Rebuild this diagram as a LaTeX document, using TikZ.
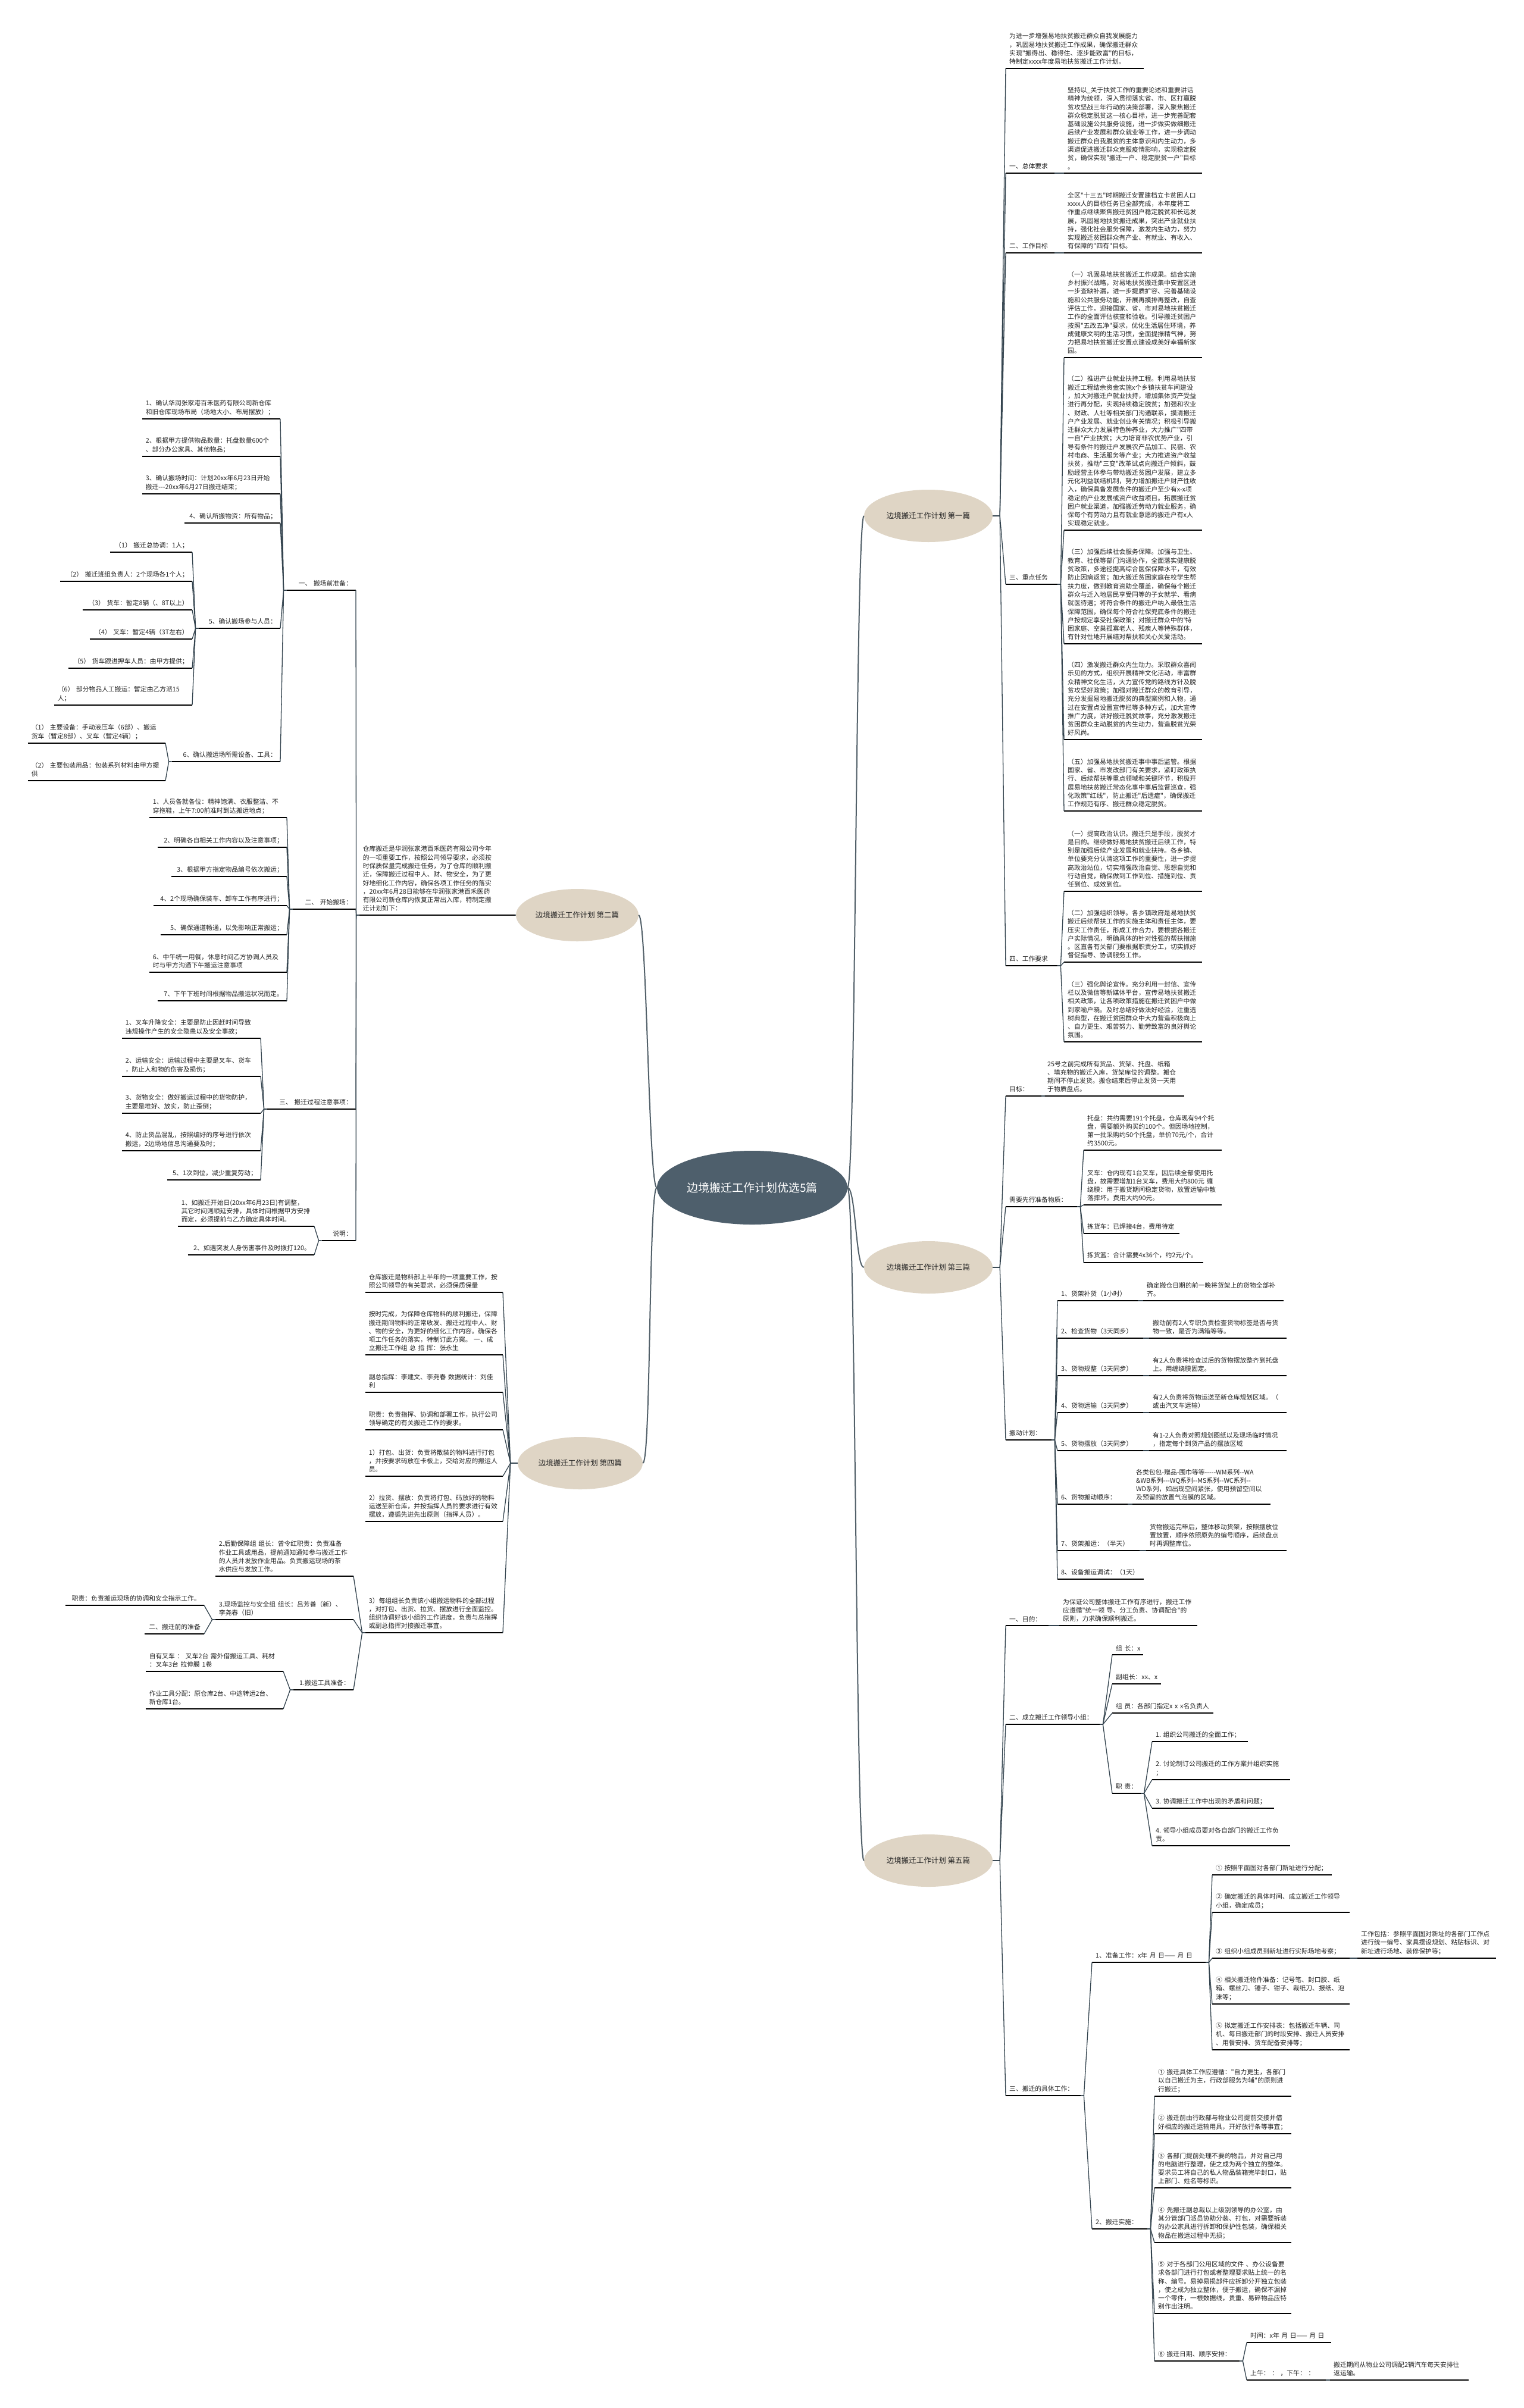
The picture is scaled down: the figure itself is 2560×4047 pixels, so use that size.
\documentclass[tikz,border=0pt]{standalone}
\usepackage{fontspec}
\newfontfamily\cjk[HyphenChar=None]{Noto Sans CJK SC}
\usetikzlibrary{shapes.geometric}
\definecolor{slate}{HTML}{4E5F6C}
\definecolor{beige}{HTML}{DFD5C5}
\definecolor{conn}{HTML}{34444F}
\definecolor{txtc}{HTML}{222222}
\newcommand\RNode[5]{\pgfmathsetmacro\mytw{#3-#2-12}%
  \node[tx,text width=\mytw pt,anchor=south west] (#1) at (#2,#4) {#5};
  \draw[ul] (#1.south west) -- (#1.south east);}
\newcommand\LNode[5]{\pgfmathsetmacro\mytw{#3-#2-12}%
  \node[tx,text width=\mytw pt,anchor=south east] (#1) at (#3,#4) {#5};
  \draw[ul] (#1.south west) -- (#1.south east);}
\newcommand\LNodeR[5]{\pgfmathsetmacro\mytw{#3-#2-12}%
  \node[tx,text width=\mytw pt,anchor=south east,align=right] (#1) at (#3,#4) {#5};
  \draw[ul] (#1.south west) -- (#1.south east);}
\newcommand\CR[2]{\draw[cn] (#1.south east) -- ++(5,0) -- (#2.south west);}
\newcommand\CL[2]{\draw[cn] (#1.south west) -- ++(-5,0) -- (#2.south east);}
\newcommand\CRE[2]{\draw[cn] (#1.east) -- ++(12,0) -- (#2.south west);}
\newcommand\CLE[2]{\draw[cn] (#1.west) -- ++(-12,0) -- (#2.south east);}
\begin{document}
\begin{tikzpicture}[x=1pt,y=-1pt,
  tx/.style={font=\cjk\fontsize{10.8}{14.3}\selectfont, text=txtc, inner xsep=6pt, inner ysep=6pt, align=left},
  ul/.style={line width=1.6pt, black},
  cn/.style={line width=1.3pt, conn, line join=round},
  mcn/.style={line width=2pt, conn!85},
  br/.style={ellipse, fill=beige, minimum width=216pt, minimum height=88pt, font=\cjk\fontsize{12.5}{15}\selectfont, text=txtc, inner sep=0pt},
]
\fill[white] (0,0) rectangle (2560,4047);
\useasboundingbox (0,0) rectangle (2560,4047);

% ---------- branch ellipses ----------
\node[br] (b1) at (1560,867) {边境搬迁工作计划 第一篇};
\node[br] (b3) at (1560,2130) {边境搬迁工作计划 第三篇};
\node[br] (b5) at (1560,3127) {边境搬迁工作计划 第五篇};
\node[br,minimum width=206pt] (b2) at (970,1538) {边境搬迁工作计划 第二篇};
\node[br,minimum width=210pt] (b4) at (975,2459) {边境搬迁工作计划 第四篇};

% ================= 第一篇 =================
\RNode{r1i}{1690}{1922}{115}{为进一步增强易地扶贫搬迁群众自我发展能力\\，巩固易地扶贫搬迁工作成果，确保搬迁群众\\实现"搬得出、稳得住、逐步能致富"的目标，\\特制定xxxx年度易地扶贫搬迁工作计划。}
\RNode{r1al}{1690}{1772}{291}{一、总体要求}
\RNode{r1ac}{1788}{2020}{291}{坚持以\_关于扶贫工作的重要论述和重要讲话\\精神为统领，深入贯彻落实省、市、区打赢脱\\贫攻坚战三年行动的决策部署，深入聚焦搬迁\\群众稳定脱贫这一核心目标，进一步完善配套\\基础设施公共服务设施，进一步做实做细搬迁\\后续产业发展和群众就业等工作，进一步调动\\搬迁群众自我脱贫的主体意识和内生动力，多\\渠道促进搬迁群众克服疫情影响，实现稳定脱\\贫，确保实现"搬迁一户、稳定脱贫一户"目标\\。}
\RNode{r1bl}{1690}{1772}{425}{二、工作目标}
\RNode{r1bc}{1788}{2020}{425}{全区"十三五"时期搬迁安置建档立卡贫困人口\\xxxx人的目标任务已全部完成，本年度将工\\作重点继续聚焦搬迁贫困户稳定脱贫和长远发\\展，巩固易地扶贫搬迁成果，突出产业就业扶\\持，强化社会服务保障，激发内生动力，努力\\实现搬迁贫困群众有产业、有就业、有收入、\\有保障的"四有"目标。}
\RNode{r1cl}{1690}{1777}{982}{三、重点任务}
\RNode{r1c1}{1788}{2020}{601}{（一）巩固易地扶贫搬迁工作成果。结合实施\\乡村振兴战略，对易地扶贫搬迁集中安置区进\\一步查缺补漏，进一步提质扩容、完善基础设\\施和公共服务功能，开展再摸排再整改，自查\\评估工作，迎接国家、省、市对易地扶贫搬迁\\工作的全面评估核查和验收。引导搬迁贫困户\\按照"五改五净"要求，优化生活居住环境，养\\成健康文明的生活习惯，全面提振精气神，努\\力把易地扶贫搬迁安置点建设成美好幸福新家\\园。}
\RNode{r1c2}{1788}{2020}{891}{（二）推进产业就业扶持工程。利用易地扶贫\\搬迁工程结余资金实施x个乡镇扶贫车间建设\\，加大对搬迁户就业扶持，增加集体资产受益\\进行再分配，实现持续稳定脱贫；加强和农业\\、财政、人社等相关部门沟通联系，摸清搬迁\\户产业发展、就业创业有关情况；积极引导搬\\迁群众大力发展特色种养业，大力推广"四带\\一自"产业扶贫；大力培育非农优势产业，引\\导有条件的搬迁户发展农产品加工、民宿、农\\村电商、生活服务等产业；大力推进资产收益\\扶贫，推动"三变"改革试点向搬迁户倾斜，鼓\\励经营主体参与带动搬迁贫困户发展，建立多\\元化利益联结机制，努力增加搬迁户财产性收\\入，确保具备发展条件的搬迁户至少有x-x项\\稳定的产业发展或资产收益项目。拓展搬迁贫\\困户就业渠道，加强搬迁劳动力就业服务，确\\保每个有劳动力且有就业意愿的搬迁户有x人\\实现稳定就业。}
\RNode{r1c3}{1788}{2020}{1082}{（三）加强后续社会服务保障。加强与卫生、\\教育、社保等部门沟通协作，全面落实健康脱\\贫政策，多途径提高综合医保保障水平，有效\\防止因病返贫；加大搬迁贫困家庭在校学生帮\\扶力度，做到教育资助全覆盖，确保每个搬迁\\群众与迁入地居民享受同等的子女就学、看病\\就医待遇；将符合条件的搬迁户纳入最低生活\\保障范围，确保每个符合社保兜底条件的搬迁\\户按规定享受社保政策；对搬迁群众中的'特\\困家庭、空巢孤寡老人、残疾人等特殊群体，\\有针对性地开展结对帮扶和关心关爱活动。}
\RNode{r1c4}{1788}{2020}{1243}{（四）激发搬迁群众内生动力。采取群众喜闻\\乐见的方式，组织开展精神文化活动，丰富群\\众精神文化生活，大力宣传党的路线方针及脱\\贫攻坚好政策；加强对搬迁群众的教育引导，\\充分发掘易地搬迁脱贫的典型案例和人物，通\\过在安置点设置宣传栏等多种方式，加大宣传\\推广力度，讲好搬迁脱贫故事，充分激发搬迁\\贫困群众主动脱贫的内生动力，营造脱贫光荣\\好风尚。}
\RNode{r1c5}{1788}{2020}{1363}{（五）加强易地扶贫搬迁事中事后监管。根据\\国家、省、市发改部门有关要求，紧盯政策执\\行、后续帮扶等重点领域和关键环节，积极开\\展易地扶贫搬迁常态化事中事后监督巡查，强\\化政策"红线"，防止搬迁"后遗症"，确保搬迁\\工作规范有序、搬迁群众稳定脱贫。}
\RNode{r1dl}{1690}{1777}{1623}{四、工作要求}
\RNode{r1d1}{1788}{2020}{1498}{（一）提高政治认识。搬迁只是手段，脱贫才\\是目的。继续做好易地扶贫搬迁后续工作，特\\别是加强后续产业发展和就业扶持。各乡镇、\\单位要充分认清这项工作的重要性，进一步提\\高政治站位，切实增强政治自觉、思想自觉和\\行动自觉，确保做到工作到位、措施到位、责\\任到位、成效到位。}
\RNode{r1d2}{1788}{2020}{1617}{（二）加强组织领导。各乡镇政府是易地扶贫\\搬迁后续帮扶工作的实施主体和责任主体，要\\压实工作责任，形成工作合力，要根据各搬迁\\户实际情况，明确具体的针对性强的帮扶措施\\。区直各有关部门要根据职责分工，切实抓好\\督促指导、协调服务工作。}
\RNode{r1d3}{1788}{2020}{1751}{（三）强化舆论宣传。充分利用一封信、宣传\\栏以及微信等新媒体平台，宣传易地扶贫搬迁\\相关政策，让各项政策措施在搬迁贫困户中做\\到家喻户晓。及时总结好做法好经验，注重选\\树典型，在搬迁贫困群众中大力营造积极向上\\、自力更生、艰苦努力、勤劳致富的良好舆论\\氛围。}
\CRE{b1}{r1i}\CRE{b1}{r1al}\CRE{b1}{r1bl}\CRE{b1}{r1cl}\CRE{b1}{r1dl}
\CR{r1al}{r1ac}\CR{r1bl}{r1bc}
\CR{r1cl}{r1c1}\CR{r1cl}{r1c2}\CR{r1cl}{r1c3}\CR{r1cl}{r1c4}\CR{r1cl}{r1c5}
\CR{r1dl}{r1d1}\CR{r1dl}{r1d2}\CR{r1dl}{r1d3}

% ================= 第三篇 =================
\RNode{r3al}{1690}{1750}{1842}{目标：}
\RNode{r3ac}{1754}{1990}{1842}{25号之前完成所有货品、货架、托盘、纸箱\\、填充物的搬迁入库，货架库位的调整。搬仓\\期间不停止发货。搬仓结束后停止发货一天用\\于物质盘点。}
\RNode{r3bl}{1690}{1810}{2028}{需要先行准备物质：}
\RNode{r3b1}{1821}{2053}{1933}{托盘：共约需要191个托盘，仓库现有94个托\\盘，需要额外购买约100个。但因场地控制，\\第一批采购约50个托盘，单价70元/个，合计\\约3500元。}
\RNode{r3b2}{1821}{2053}{2025}{叉车：仓内现有1台叉车，因后续全部使用托\\盘，故需要增加1台叉车，费用大约800元~缠\\绕膜：用于搬货期间稳定货物，放置运输中散\\落摔坏。费用大约90元。}
\RNode{r3b3}{1821}{1982}{2073}{拣货车：已焊接4台，费用待定}
\RNode{r3b4}{1821}{2022}{2122}{拣货篮：合计需要4x36个，约2元/个。}
\RNode{r3cl}{1690}{1767}{2420}{搬动计划：}
\RNode{r3c1}{1777}{1912}{2186}{1、货架补货（1小时）}
\RNode{r3c1t}{1921}{2157}{2186}{确定搬仓日期的前一晚将货架上的货物全部补\\齐。}
\RNode{r3c2}{1777}{1921}{2249}{2、检查货物（3天同步）}
\RNode{r3c2t}{1931}{2162}{2249}{搬动前有2人专职负责检查货物标签是否与货\\物一致，是否为满箱等等。}
\RNode{r3c3}{1777}{1921}{2312}{3、货物规整（3天同步）}
\RNode{r3c3t}{1931}{2162}{2312}{有2人负责将检查过后的货物摆放整齐到托盘\\上。用缠绕膜固定。}
\RNode{r3c4}{1777}{1921}{2374}{4、货物运输（3天同步）}
\RNode{r3c4t}{1931}{2162}{2374}{有2人负责将货物运送至新仓库规划区域。（\\或由汽叉车运输）}
\RNode{r3c5}{1777}{1921}{2438}{5、货物摆放（3天同步）}
\RNode{r3c5t}{1931}{2162}{2438}{有1-2人负责对照规划图纸以及现场临时情况\\，指定每个到货产品的摆放区域}
\RNode{r3c6}{1777}{1895}{2528}{6、货物搬动顺序：}
\RNode{r3c6t}{1903}{2135}{2528}{各类包包-赠品-围巾等等-----WM系列--WA\\\&WB系列---WQ系列--MS系列--WC系列--\\WD系列，如出现空间紧张，使用预留空间以\\及预留的放置气泡膜的区域。}
\RNode{r3c7}{1777}{1915}{2606}{7、货架搬运：（半天）}
\RNode{r3c7t}{1926}{2162}{2606}{货物搬运完毕后，整体移动货架，按照摆放位\\置放置，顺序依照原先的编号顺序，后续盘点\\时再调整库位。}
\RNode{r3c8}{1777}{1922}{2654}{8、设备搬运调试：（1天）}
\CRE{b3}{r3al}\CRE{b3}{r3bl}\CRE{b3}{r3cl}
\CR{r3al}{r3ac}
\CR{r3bl}{r3b1}\CR{r3bl}{r3b2}\CR{r3bl}{r3b3}\CR{r3bl}{r3b4}
\CR{r3cl}{r3c1}\CR{r3cl}{r3c2}\CR{r3cl}{r3c3}\CR{r3cl}{r3c4}\CR{r3cl}{r3c5}\CR{r3cl}{r3c6}\CR{r3cl}{r3c7}\CR{r3cl}{r3c8}
\CR{r3c1}{r3c1t}\CR{r3c2}{r3c2t}\CR{r3c3}{r3c3t}\CR{r3c4}{r3c4t}\CR{r3c5}{r3c5t}\CR{r3c6}{r3c6t}\CR{r3c7}{r3c7t}

% ================= 第五篇 =================
\RNode{r5al}{1690}{1762}{2732}{一、目的：}
\RNode{r5ac}{1780}{2012}{2732}{为保证公司整体搬迁工作有序进行，搬迁工作\\应遵循"统一领~导、分工负责、协调配合"的\\原则，力求确保顺利搬迁。}
\RNode{r5bl}{1690}{1848}{2898}{二、成立搬迁工作领导小组：}
\RNode{r5b1}{1869}{1921}{2781}{组~长：x}
\RNode{r5b2}{1869}{1951}{2830}{副组长：xx、x}
\RNode{r5b3}{1869}{2039}{2879}{组~员：各部门指定x~x~x名负责人}
\RNode{r5b4}{1869}{1917}{3014}{职~责：}
\RNode{r5b41}{1936}{2097}{2927}{1.~组织公司搬迁的全面工作；}
\RNode{r5b42}{1936}{2168}{2991}{2.~讨论制订公司搬迁的工作方案并组织实施\\；}
\RNode{r5b43}{1936}{2141}{3039}{3.~协调搬迁工作中出现的矛盾和问题；}
\RNode{r5b44}{1936}{2168}{3102}{4.~领导小组成员要对各自部门的搬迁工作负\\责。}
\RNode{r5cl}{1690}{1816}{3522}{三、搬迁的具体工作：}
\RNode{r5c1}{1835}{2026}{3298}{1、准备工作：x年~月~日——~月~日}
\RNode{r5c11}{2037}{2238}{3151}{①~按照平面图对各部门新址进行分配；}
\RNode{r5c12}{2037}{2268}{3214}{②~确定搬迁的具体时间、成立搬迁工作领导\\小组，确定成员；}
\RNode{r5c13}{2037}{2268}{3291}{③~组织小组成员到新址进行实际场地考察；}
\RNode{r5c13t}{2281}{2514}{3291}{工作包括：参照平面图对新址的各部门工作点\\进行统一编号、家具摆设规划、粘贴标识、对\\新址进行场地、装修保护等；}
\RNode{r5c14}{2037}{2268}{3368}{④~相关搬迁物件准备：记号笔、封口胶、纸\\箱、螺丝刀、锤子、钳子、裁纸刀、报纸、泡\\沫等；}
\RNode{r5c15}{2037}{2268}{3445}{⑤~拟定搬迁工作安排表：包括搬迁车辆、司\\机、每日搬迁部门的时段安排、搬迁人员安排\\、用餐安排、货车配备安排等；}
\RNode{r5c2}{1835}{1928}{3746}{2、搬迁实施：}
\RNode{r5c21}{1940}{2170}{3523}{①~搬迁具体工作应遵循："自力更生，各部门\\以自己搬迁为主，行政部服务为辅"的原则进\\行搬迁；}
\RNode{r5c22}{1940}{2170}{3586}{②~搬迁前由行政部与物业公司提前交接并借\\好相应的搬迁运输用具，开好放行条等事宜；}
\RNode{r5c23}{1940}{2170}{3677}{③~各部门提前处理不要的物品，并对自己用\\的电脑进行整理，使之成为两个独立的整体。\\要求员工将自己的私人物品装箱完毕封口，贴\\上部门、姓名等标识。}
\RNode{r5c24}{1940}{2170}{3769}{④~先搬迁副总裁以上级别领导的办公室，由\\其分管部门派员协助分装、打包，对需要拆装\\的办公家具进行拆卸和保护性包装，确保相关\\物品在搬运过程中无损；}
\RNode{r5c25}{1940}{2170}{3888}{⑤~对于各部门公用区域的文件~、办公设备要\\求各部门进行打包或者整理要求贴上统一的名\\称、编号。易掉易损部件应拆卸分开独立包装\\，使之成为独立整体，便于搬运，确保不漏掉\\一个零件，一根数据线，贵重、易碎物品应特\\别作出注明。}
\RNode{r5c26}{1940}{2083}{3968}{⑥~搬迁日期、顺序安排：}
\RNode{r5c261}{2095}{2237}{3937}{时间：x年~月~日——~月~日}
\RNode{r5c262}{2095}{2228}{4000}{上午：~：~，下午：~：}
\RNode{r5c262t}{2235}{2468}{4000}{搬迁期间从物业公司调配2辆汽车每天安排往\\返运输。}
\CRE{b5}{r5al}\CRE{b5}{r5bl}\CRE{b5}{r5cl}
\CR{r5al}{r5ac}
\CR{r5bl}{r5b1}\CR{r5bl}{r5b2}\CR{r5bl}{r5b3}\CR{r5bl}{r5b4}
\CR{r5b4}{r5b41}\CR{r5b4}{r5b42}\CR{r5b4}{r5b43}\CR{r5b4}{r5b44}
\CR{r5cl}{r5c1}\CR{r5cl}{r5c2}
\CR{r5c1}{r5c11}\CR{r5c1}{r5c12}\CR{r5c1}{r5c13}\CR{r5c1}{r5c14}\CR{r5c1}{r5c15}
\CR{r5c13}{r5c13t}
\CR{r5c2}{r5c21}\CR{r5c2}{r5c22}\CR{r5c2}{r5c23}\CR{r5c2}{r5c24}\CR{r5c2}{r5c25}\CR{r5c2}{r5c26}
\CR{r5c26}{r5c261}\CR{r5c26}{r5c262}\CR{r5c262}{r5c262t}

% ================= 第二篇 =================
\LNode{l2i}{604}{865}{1538}{仓库搬迁是华润张家港百禾医药有限公司今年\\的一项重要工作，按照公司领导要求，必须按\\时保质保量完成搬迁任务，为了仓库的顺利搬\\迁，保障搬迁过程中人、财、物安全，为了更\\好地细化工作内容，确保各项工作任务的落实\\，20xx年6月28日能够在华润张家港百禾医药\\有限公司新仓库内恢复正常出入库，特制定搬\\迁计划如下：}
\LNodeR{l2a}{482}{598}{992}{一、~搬场前准备：}
\LNode{l2a1}{239}{471}{704}{1、确认华润张家港百禾医药有限公司新仓库\\和旧仓库现场布局（场地大小、布局摆放）；}
\LNode{l2a2}{239}{471}{767}{2、根据甲方提供物品数量：托盘数量600个\\、部分办公家具、其他物品；}
\LNode{l2a3}{239}{471}{830}{3、确认搬场时间：计划20xx年6月23日开始\\搬迁---20xx年6月27日搬迁结束；}
\LNodeR{l2a4}{310}{471}{879}{4、确认所搬物资：所有物品；}
\LNodeR{l2a5}{334}{471}{1056}{5、确认搬场参与人员：}
\LNodeR{l2a51}{185}{323}{928}{（1）~搬迁总协调：1人；}
\LNodeR{l2a52}{101}{323}{977}{（2）~搬迁班组负责人：2个现场各1个人；}
\LNodeR{l2a53}{139}{323}{1025}{（3）~货车：暂定8辆（、8T以上）}
\LNodeR{l2a54}{151}{323}{1074}{（4）~叉车：暂定4辆（3T左右）}
\LNodeR{l2a55}{115}{323}{1123}{（5）~货车跟进押车人员：由甲方提供；}
\LNode{l2a56}{91}{323}{1185}{（6）~部分物品人工搬运：暂定由乙方派15\\人；}
\LNodeR{l2a6}{289}{471}{1280}{6、确认搬运场所需设备、工具：}
\LNode{l2a61}{47}{278}{1249}{（1）~主要设备：手动液压车（6部）、搬运\\货车（暂定8部）、叉车（暂定4辆）；}
\LNode{l2a62}{47}{278}{1312}{（2）~主要包装用品：包装系列材料由甲方提\\供}
\LNodeR{l2b}{492}{598}{1528}{二、~开始搬场：}
\LNode{l2b1}{251}{482}{1374}{1、人员各就各位：精神饱满、衣服整洁、不\\穿拖鞋，上午7:00前准时到达搬运地点；}
\LNodeR{l2b2}{265}{482}{1424}{2、明确各自相关工作内容以及注意事项；}
\LNodeR{l2b3}{288}{482}{1473}{3、根据甲方指定物品编号依次搬运；}
\LNodeR{l2b4}{258}{482}{1522}{4、2个现场确保装车、卸车工作有序进行；}
\LNodeR{l2b5}{270}{482}{1571}{5、确保通道畅通，以免影响正常搬运；}
\LNode{l2b6}{251}{482}{1634}{6、中午统一用餐，休息时间乙方协调人员及\\时与甲方沟通下午搬运注意事项}
\LNodeR{l2b7}{265}{482}{1682}{7、下午下班时间根据物品搬运状况而定。}
\LNodeR{l2c}{449}{598}{1864}{三、~搬迁过程注意事项：}
\LNode{l2c1}{205}{438}{1745}{1、叉车升降安全：主要是防止因赶时间导致\\违规操作产生的安全隐患以及安全事故；}
\LNode{l2c2}{205}{438}{1809}{2、运输安全：运输过程中主要是叉车、货车\\，防止人和物的伤害及损伤；}
\LNode{l2c3}{205}{438}{1871}{3、货物安全：做好搬运过程中的货物防护，\\主要是堆好、放实，防止歪倒；}
\LNode{l2c4}{205}{438}{1934}{4、防止货品混乱，按照编好的序号进行依次\\搬运，2边场地信息沟通要及时；}
\LNodeR{l2c5}{281}{438}{1983}{5、1次到位，减少重复劳动；}
\LNodeR{l2d}{541}{598}{2085}{说明：}
\LNode{l2d1}{299}{528}{2061}{1、如搬迁开始日(20xx年6月23日)有调整，\\其它时间则顺延安排，具体时间根据甲方安排\\而定，必须提前与乙方确定具体时间。}
\LNodeR{l2d2}{316}{528}{2109}{2、如遇突发人身伤害事件及时拨打120。}
\draw[cn] (b2.west) -- (l2i.south east);
\CL{l2i}{l2a}\CL{l2i}{l2b}\CL{l2i}{l2c}\CL{l2i}{l2d}
\CL{l2a}{l2a1}\CL{l2a}{l2a2}\CL{l2a}{l2a3}\CL{l2a}{l2a4}\CL{l2a}{l2a5}\CL{l2a}{l2a6}
\CL{l2a5}{l2a51}\CL{l2a5}{l2a52}\CL{l2a5}{l2a53}\CL{l2a5}{l2a54}\CL{l2a5}{l2a55}\CL{l2a5}{l2a56}
\CL{l2a6}{l2a61}\CL{l2a6}{l2a62}
\CL{l2b}{l2b1}\CL{l2b}{l2b2}\CL{l2b}{l2b3}\CL{l2b}{l2b4}\CL{l2b}{l2b5}\CL{l2b}{l2b6}\CL{l2b}{l2b7}
\CL{l2c}{l2c1}\CL{l2c}{l2c2}\CL{l2c}{l2c3}\CL{l2c}{l2c4}\CL{l2c}{l2c5}
\CL{l2d}{l2d1}\CL{l2d}{l2d2}

% ================= 第四篇 =================
\LNode{l4a}{614}{845}{2172}{仓库搬迁是物料部上半年的一项重要工作，按\\照公司领导的有关要求，必须保质保量}
\LNode{l4b}{614}{845}{2277}{按时完成，为保障仓库物料的顺利搬迁，保障\\搬迁期间物料的正常收发、搬迁过程中人、财\\、物的安全，为更好的细化工作内容。确保各\\项工作任务的落实，特制订此方案。~一、成\\立搬迁工作组~总~指~挥：张永生}
\LNode{l4c}{614}{845}{2340}{副总指挥：李建文、李尧春~数据统计：刘佳\\利}
\LNode{l4d}{614}{845}{2403}{职责：负责指挥、协调和部署工作，执行公司\\领导确定的有关搬迁工作的要求。}
\LNode{l4e}{614}{845}{2481}{1）打包、出货：负责将散装的物料进行打包\\，并按要求码放在卡板上，交给对应的搬运人\\员。}
\LNode{l4f}{614}{845}{2557}{2）拉货、摆放：负责将打包、码放好的物料\\运送至新仓库，并按指挥人员的要求进行有效\\摆放，遵循先进先出原则（指挥人员）。}
\LNode{l4g}{614}{845}{2744}{3）每组组长负责该小组搬运物料的全部过程\\，对打包、出货、拉货、摆放进行全面监控。\\组织协调好该小组的工作进度，负责与总指挥\\或副总指挥对接搬迁事宜。}
\LNode{l4g1}{362}{594}{2649}{2.后勤保障组~组长：曾令红职责：负责准备\\作业工具或用品，提前通知通知参与搬迁工作\\的人员并发放作业用品。负责搬运现场的茶\\水供应与发放工作。}
\LNode{l4g2}{362}{594}{2722}{3.现场监控与安全组~组长：吕芳善（新）、\\李尧春（旧）}
\LNodeR{l4g21}{110}{343}{2698}{职责：负责搬运现场的协调和安全指示工作。}
\LNodeR{l4g22}{243}{343}{2746}{二、搬迁前的准备}
\LNodeR{l4g3}{493}{594}{2840}{1.搬运工具准备：}
\LNode{l4g31}{245}{476}{2809}{自有叉车~：~叉车2台~需外借搬运工具、耗材\\：叉车3台~拉伸膜~1卷}
\LNode{l4g32}{245}{476}{2872}{作业工具分配：原仓库2台、中途转运2台、\\新仓库1台。}
\CLE{b4}{l4a}\CLE{b4}{l4b}\CLE{b4}{l4c}\CLE{b4}{l4d}\CLE{b4}{l4e}\CLE{b4}{l4f}\CLE{b4}{l4g}
\CL{l4g}{l4g1}\CL{l4g}{l4g2}\CL{l4g}{l4g3}
\CL{l4g2}{l4g21}\CL{l4g2}{l4g22}
\CL{l4g3}{l4g31}\CL{l4g3}{l4g32}

% ---------- center ----------
\node[ellipse, fill=slate, minimum width=320pt, minimum height=124pt, inner sep=0pt, text=white, font=\cjk\fontsize{19}{22}\selectfont] (c) at (1264,1996) {边境搬迁工作计划优选5篇};
\draw[mcn] (c.east) .. controls +(14,0) and +(-14,0) .. (b1.west);
\draw[mcn] (c.east) .. controls +(14,0) and +(-14,0) .. (b3.west);
\draw[mcn] (c.east) .. controls +(14,0) and +(-14,0) .. (b5.west);
\draw[mcn] (c.west) .. controls +(-14,0) and +(14,0) .. (b2.east);
\draw[mcn] (c.west) .. controls +(-14,0) and +(14,0) .. (b4.east);
\end{tikzpicture}
\end{document}
